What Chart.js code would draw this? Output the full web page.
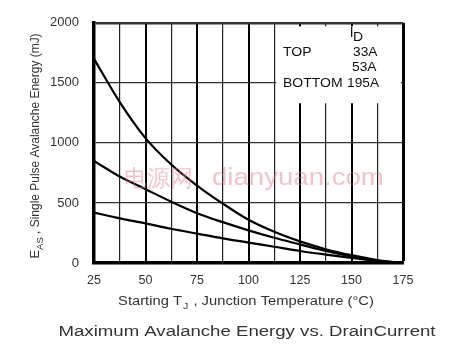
<!DOCTYPE html>
<html>
<head>
<meta charset="utf-8">
<script src="https://cdn.jsdelivr.net/npm/chart.js@4.4.1/dist/chart.umd.min.js"></script>
<style>
  html, body { margin: 0; padding: 0; background: #fff; }
  #wrap { width: 449px; height: 350px; }
</style>
</head>
<body>
<div id="wrap"><canvas id="easChart" width="449" height="350"></canvas></div>
<script>
// Starting junction temperature (°C)
const temps = [25, 37.5, 50, 62.5, 75, 87.5, 100, 112.5, 125, 137.5, 150, 162.5, 175];
// Avalanche energy (mJ) per drain current
const eas33A  = [1700, 1340, 1040, 820, 645, 495, 360, 260, 180, 115, 65, 25, 0];
const eas53A  = [850, 720, 615, 510, 415, 340, 272, 210, 155, 100, 55, 20, 0];
const eas195A = [420, 372, 330, 285, 245, 205, 170, 135, 100, 70, 42, 16, 0];

const xTickValues = [25, 50, 75, 100, 125, 150, 175];
const yTickValues = [0, 500, 1000, 1500, 2000];

const legendTitle = "D";
const legendRows = [["TOP", "33A"], ["", "53A"], ["BOTTOM", "195A"]];

const captionText = "Maximum Avalanche Energy vs. DrainCurrent";
const watermark = ["电源网", "dianyuan.com"];

const FONT = "'Liberation Sans', Arial, Helvetica, sans-serif";
const TEXT_COLOR = "#333";

function toPoints(ys) {
  return temps.map((t, i) => ({ x: t, y: ys[i] }));
}

// draw text with a slight horizontal stretch, like the scanned figure
function stretchText(ctx, text, x, y, size, sx, align) {
  ctx.save();
  ctx.font = size + "px " + FONT;
  ctx.textAlign = align || "left";
  ctx.textBaseline = "alphabetic";
  ctx.translate(x, y);
  ctx.scale(sx, 1);
  ctx.fillText(text, 0, 0);
  ctx.restore();
}

// white box behind the legend, drawn over the grid
const legendBox = {
  id: "legendBox",
  beforeDatasetsDraw(chart) {
    const { ctx, scales } = chart;
    const x0 = scales.x.getPixelForValue(113.5);
    const x1 = scales.x.getPixelForValue(174);
    const y0 = scales.y.getPixelForValue(1970);
    const y1 = scales.y.getPixelForValue(1330);
    ctx.save();
    ctx.fillStyle = "#fff";
    ctx.fillRect(x0, y0, x1 - x0, y1 - y0);
    ctx.restore();
  }
};

// axis titles, legend text, caption and watermark
const labels = {
  id: "labels",
  afterDraw(chart) {
    const { ctx } = chart;
    ctx.save();
    ctx.fillStyle = "rgba(225, 120, 135, 0.45)";
    stretchText(ctx, watermark[0], 124, 186, 23, 1.0, "left");
    stretchText(ctx, watermark[1], 212, 185, 23, 1.2, "left");

    ctx.fillStyle = "#111";
    stretchText(ctx, "TOP", 283, 56, 12.5, 1.12, "left");
    stretchText(ctx, "BOTTOM", 283, 87, 12.5, 1.12, "left");
    ctx.fillRect(351, 27, 1.3, 10);
    stretchText(ctx, legendTitle, 353, 41, 12.5, 1.12, "left");
    stretchText(ctx, legendRows[0][1], 353, 56, 12.5, 1.1, "left");
    stretchText(ctx, legendRows[1][1], 352, 71, 12.5, 1.1, "left");
    stretchText(ctx, legendRows[2][1], 347, 87, 12.5, 1.1, "left");

    // x title with subscript J
    ctx.fillStyle = TEXT_COLOR;
    const xt1 = "Starting T";
    const xt2 = " , Junction Temperature (°C)";
    const sx = 1.18;
    ctx.font = "12.5px " + FONT;
    const w1 = ctx.measureText(xt1).width * sx;
    ctx.font = "9px " + FONT;
    const wj = ctx.measureText("J").width * sx;
    ctx.font = "12.5px " + FONT;
    const w2 = ctx.measureText(xt2).width * sx;
    const xs = 246 - (w1 + wj + w2 + 2) / 2;
    stretchText(ctx, xt1, xs, 305, 12.5, sx);
    stretchText(ctx, "J", xs + w1 + 1, 309, 9, sx);
    stretchText(ctx, xt2, xs + w1 + wj + 2, 305, 12.5, sx);

    // y title with subscript AS, rotated
    ctx.save();
    ctx.translate(39, 146);
    ctx.rotate(-Math.PI / 2);
    const yt1 = "E";
    const yt2 = " , Single Pulse Avalanche Energy (mJ)";
    ctx.font = "13px " + FONT;
    const e1 = ctx.measureText(yt1).width;
    const e3 = ctx.measureText(yt2).width * 0.92;
    ctx.font = "9.5px " + FONT;
    const e2 = ctx.measureText("AS").width;
    const ys = -(e1 + e2 + e3) / 2;
    stretchText(ctx, yt1, ys, 0, 13, 1);
    stretchText(ctx, "AS", ys + e1, 4, 9.5, 1);
    stretchText(ctx, yt2, ys + e1 + e2, 0, 13, 0.92);
    ctx.restore();

    // caption
    stretchText(ctx, captionText, 247, 336, 15.5, 1.2, "center");
    ctx.restore();
  }
};

const ctx = document.getElementById("easChart");
new Chart(ctx, {
  type: "line",
  data: {
    datasets: [
      { label: "33A", data: toPoints(eas33A) },
      { label: "53A", data: toPoints(eas53A) },
      { label: "195A", data: toPoints(eas195A) }
    ].map(ds => Object.assign(ds, {
      borderColor: "#000",
      borderWidth: 2.2,
      pointRadius: 0,
      fill: false,
      cubicInterpolationMode: "monotone"
    }))
  },
  options: {
    responsive: false,
    animation: false,
    layout: { padding: { left: 0, right: 46, top: 16, bottom: 0 } },
    plugins: { legend: { display: false }, tooltip: { enabled: false } },
    scales: {
      x: {
        type: "linear",
        min: 25,
        max: 175,
        afterBuildTicks(scale) {
          const t = [];
          for (let v = 25; v <= 175; v += 12.5) t.push({ value: v });
          scale.ticks = t;
        },
        afterFit(scale) { scale.height = 87; },
        ticks: {
          autoSkip: false,
          maxRotation: 0,
          padding: 10,
          color: TEXT_COLOR,
          font: { family: FONT, size: 12.5 },
          callback: v => xTickValues.includes(v) ? String(v) : ""
        },
        grid: {
          drawTicks: false,
          color: ctx => (ctx.tick && ctx.tick.value % 25 === 0) ? "#000" : "#222",
          lineWidth: ctx => {
            if (!ctx.tick) return 1;
            if (ctx.tick.value === 175) return 3;
            return ctx.tick.value % 25 === 0 ? 2 : 1.2;
          }
        },
        border: { color: "#000", width: 3.5 }
      },
      y: {
        min: 0,
        max: 2000,
        afterBuildTicks(scale) {
          scale.ticks = yTickValues.map(v => ({ value: v }));
        },
        afterFit(scale) { scale.width = 94; },
        ticks: {
          padding: 15,
          color: TEXT_COLOR,
          font: { family: FONT, size: 13 },
          callback: v => String(v)
        },
        grid: {
          drawTicks: false,
          color: "#333",
          lineWidth: ctx => (ctx.tick && ctx.tick.value === 2000) ? 2.5 : 1.2
        },
        border: { color: "#000", width: 3.5 }
      }
    }
  },
  plugins: [legendBox, labels]
});
</script>
</body>
</html>
